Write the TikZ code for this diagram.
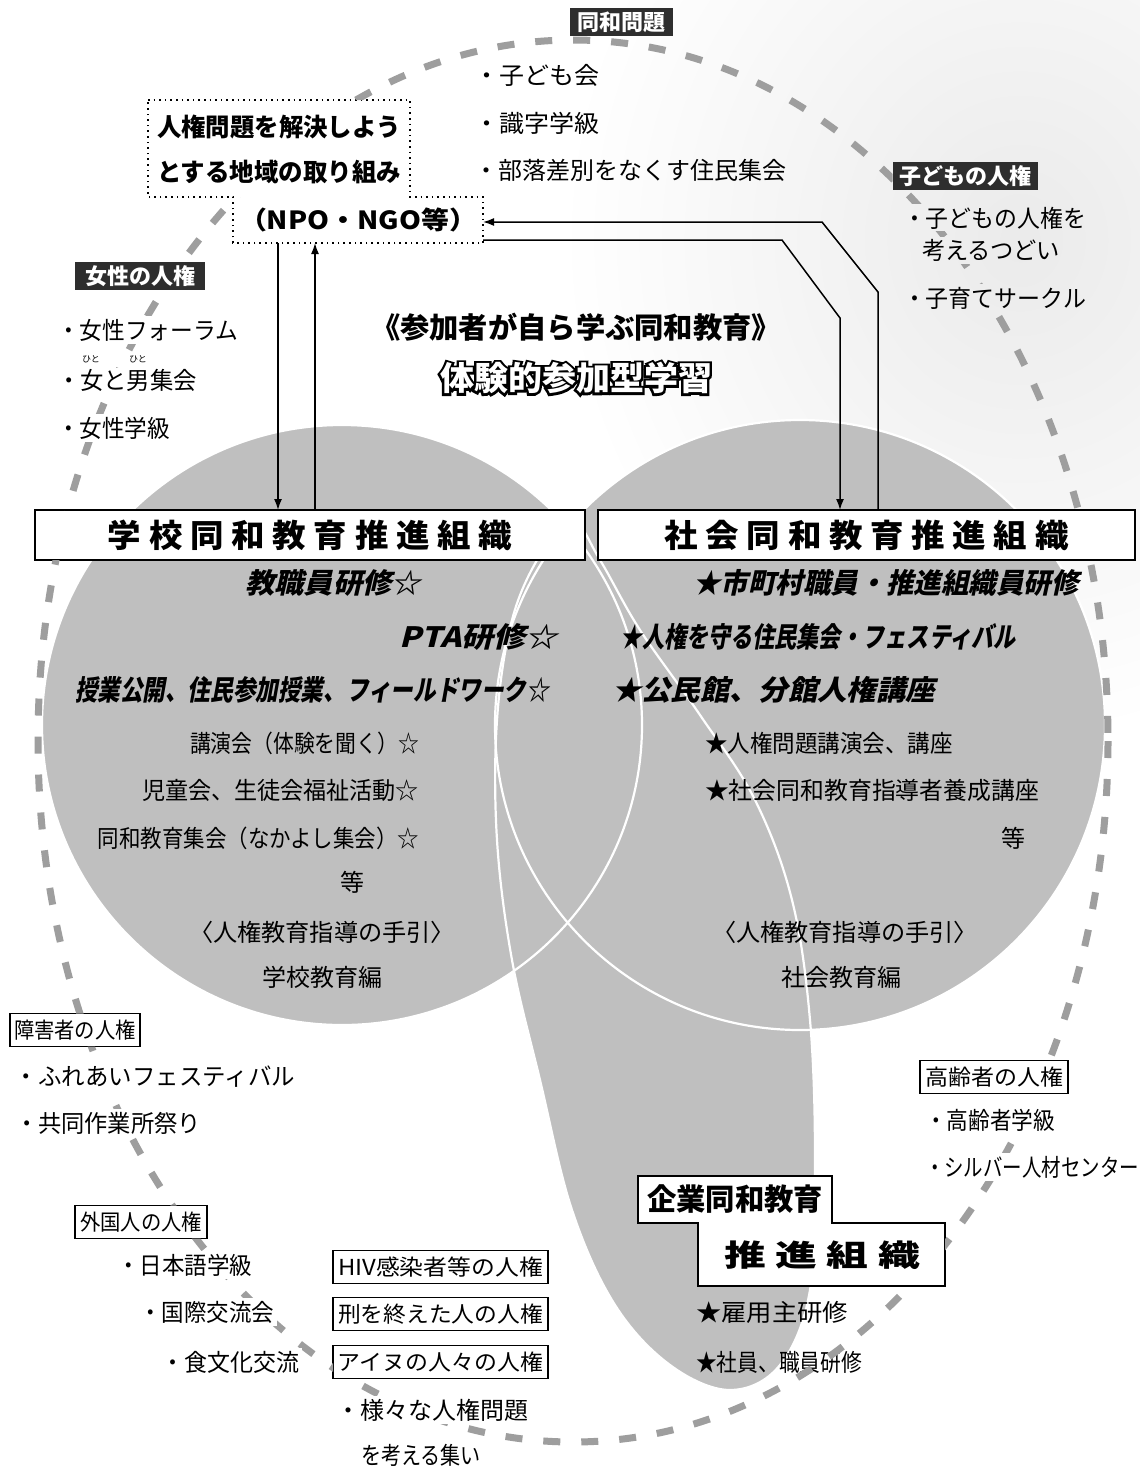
\documentclass[tikz,border=0pt]{standalone}
\usepackage{fontspec}
\usepackage{graphicx}
\setmainfont{Noto Sans CJK JP}
\newfontfamily\jpsl{Noto Sans CJK JP}[FakeSlant=0.22, BoldFeatures={FakeSlant=0.22}]
\newfontfamily\jpout{Noto Sans CJK JP}[FakeBold=14, BoldFeatures={FakeBold=14}]
\usetikzlibrary{arrows.meta,calc}
\newcommand\fw[2]{\resizebox{#1pt}{\height}{#2}}
\newcommand\fs[1]{\fontsize{#1}{#1}\selectfont}
\tikzset{
  every node/.style={inner sep=0pt, outer sep=0pt},
  mi/.style={font=\fs{24}},
  lbl/.style={fill=black!82, text=white, font=\fs{22}\bfseries, minimum height=28pt},
  wbox/.style={draw, line width=1.1pt, fill=white, font=\fs{22}, minimum height=33pt},
  org/.style={draw, line width=1.4pt, fill=white, minimum height=50pt, font=\fs{32}\bfseries},
  bi/.style={font=\jpsl\bfseries\fs{28}},
  arr/.style={line width=1.5pt, -{Latex[length=11pt,width=8pt]}},
  dashring/.style={draw=black!38, line width=7pt, dash pattern=on 17pt off 21pt},
  ring/.style={draw=white, line width=2.2pt},
  graybg/.style={fill=black!25},
  dotbox/.style={draw, line width=1.6pt, dash pattern=on 1.6pt off 4pt, fill=white},
}
\begin{document}
\begin{tikzpicture}[x=1pt,y=-1pt]
\useasboundingbox (0,0) rectangle (1140,1470);
\fill[white] (0,0) rectangle (1140,1470);
% light screen tone, upper right
\shade[inner color=black!8, outer color=white] (1020,240) ellipse [x radius=460, y radius=500];
% three grey shapes
\fill[graybg] (342,725) circle [radius=300];
\fill[graybg] (800,725) circle [radius=305];
\fill[graybg] plot[smooth cycle, tension=0.6] coordinates {(572,520) (600,560) (640,630) (700,715) (755,800) (792,900) (810,1020) (815,1160) (810,1290) (780,1365) (730,1390) (670,1365) (615,1305) (572,1210) (540,1080) (512,960) (497,840) (497,720) (512,620) (540,555)};
\draw[ring] (342,725) circle [radius=300];
\draw[ring] (800,725) circle [radius=305];
\draw[ring] plot[smooth cycle, tension=0.6] coordinates {(572,520) (600,560) (640,630) (700,715) (755,800) (792,900) (810,1020) (815,1160) (810,1290) (780,1365) (730,1390) (670,1365) (615,1305) (572,1210) (540,1080) (512,960) (497,840) (497,720) (512,620) (540,555)};

% top
\node[lbl, minimum width=103pt] (dowa) at (621,22) {同和問題};
\node[mi, anchor=west] (k1) at (474,75) {\fw{125}{・子ども会}};
\node[mi, anchor=west] (k2) at (474,123) {\fw{125}{・識字学級}};
\node[mi, anchor=west] (k3) at (474,170) {\fw{312}{・部落差別をなくす住民集会}};

% dotted box
\draw[dotbox] (148,100) -- (410,100) -- (410,197) -- (483,197) -- (483,243) -- (233,243) -- (233,197) -- (148,197) -- cycle;
\node[font=\fs{25}\bfseries] (npo1) at (279,127) {\fw{244}{人権問題を解決しよう}};
\node[font=\fs{25}\bfseries] (npo2) at (279,172) {\fw{244}{とする地域の取り組み}};
\node[font=\fs{25}\bfseries, minimum width=250pt, minimum height=46pt] (npo) at (358,220) {\fw{238}{（NPO・NGO等）}};

% women
\node[lbl, minimum width=130pt] (josei) at (140,276) {女性の人権};
\node[mi, anchor=west] (j1) at (57,330) {\fw{181}{・女性フォーラム}};
\node[mi, anchor=west] (j2) at (57,380) {\fw{140}{・女と男集会}};
\node[font=\fs{9}] (ruby1) at (91,359) {ひと};
\node[font=\fs{9}] (ruby2) at (138,359) {ひと};
\node[mi, anchor=west] (j3) at (57,428) {\fw{113}{・女性学級}};

% title
\node[font=\bfseries\fs{29}] (title1) at (576,327) {\fw{410}{《参加者が自ら学ぶ同和教育》}};
\node[font=\jpout\bfseries\fs{33}, text=black] (title2o) at (576,378) {\fw{272}{体験的参加型学習}};
\node[font=\bfseries\fs{33}, text=white] (title2) at (576,378) {\fw{272}{体験的参加型学習}};

% children
\node[lbl, minimum width=145pt] (kodomo) at (965,176) {子どもの人権};
\node[mi, anchor=west] (c1) at (903,218) {\fw{183}{・子どもの人権を}};
\node[mi, anchor=west] (c2) at (922,250) {\fw{138}{考えるつどい}};
\node[mi, anchor=west] (c3) at (903,298) {\fw{183}{・子育てサークル}};

% organisation boxes
\node[org, minimum width=550pt] (gakko) at (310,535) {\fw{404}{学 校 同 和 教 育 推 進 組 織}};
\node[org, minimum width=537pt] (shakai) at (866.5,535) {\fw{404}{社 会 同 和 教 育 推 進 組 織}};

% school side
\node[bi, anchor=east] (g1) at (421,583) {\fw{176}{教職員研修☆}};
\node[bi, anchor=east] (g2) at (558,637) {\fw{158}{PTA研修☆}};
\node[bi, anchor=east] (g3) at (549,690) {\fw{474}{授業公開、住民参加授業、フィールドワーク☆}};
\node[mi, anchor=east] (l4) at (419,743) {\fw{229}{講演会（体験を聞く）☆}};
\node[mi, anchor=east] (l5) at (419,790) {\fw{277}{児童会、生徒会福祉活動☆}};
\node[mi, anchor=east] (l6) at (419,838) {\fw{321}{同和教育集会（なかよし集会）☆}};
\node[mi] (l7) at (352,882) {等};
\node[mi] (l8) at (322,932) {\fw{266}{〈人権教育指導の手引〉}};
\node[mi] (l9) at (322,977) {学校教育編};

% society side
\node[bi, anchor=west] (s1) at (693,583) {\fw{386}{★市町村職員・推進組織員研修}};
\node[bi, anchor=west] (s2) at (620,637) {\fw{396}{★人権を守る住民集会・フェスティバル}};
\node[bi, anchor=west] (s3) at (612,690) {\fw{323}{★公民館、分館人権講座}};
\node[mi, anchor=west] (s4) at (705,743) {\fw{248}{★人権問題講演会、講座}};
\node[mi, anchor=west] (s5) at (705,790) {\fw{334}{★社会同和教育指導者養成講座}};
\node[mi] (s6) at (1013,838) {等};
\node[mi] (s7) at (845,932) {\fw{266}{〈人権教育指導の手引〉}};
\node[mi] (s8) at (841,977) {社会教育編};

% bottom left
\node[wbox, minimum width=130pt] (shogai) at (75,1030) {\fw{122}{障害者の人権}};
\node[mi, anchor=west] (h1) at (15,1077) {\fw{280}{・ふれあいフェスティバル}};
\node[mi, anchor=west] (h2) at (15,1123) {\fw{186}{・共同作業所祭り}};
\node[wbox, minimum width=132pt] (gaikoku) at (141,1222) {\fw{122}{外国人の人権}};
\node[mi, anchor=west] (f1) at (117,1265) {\fw{135}{・日本語学級}};
\node[mi, anchor=west] (f2) at (139,1312) {\fw{135}{・国際交流会}};
\node[mi, anchor=west] (f3) at (161,1362) {\fw{138}{・食文化交流}};
\node[wbox, minimum width=215pt] (hiv) at (440.5,1267) {\fw{205}{HIV感染者等の人権}};
\node[wbox, minimum width=215pt] (kei) at (440.5,1314) {\fw{205}{刑を終えた人の人権}};
\node[wbox, minimum width=215pt] (ainu) at (440.5,1362) {\fw{205}{アイヌの人々の人権}};
\node[mi, anchor=west] (m1) at (336,1410) {\fw{192}{・様々な人権問題}};
\node[mi, anchor=west] (m2) at (361,1455) {\fw{120}{を考える集い}};

% bottom right
\node[wbox, minimum width=148pt] (korei) at (994,1077) {\fw{138}{高齢者の人権}};
\node[mi, anchor=west] (o1) at (925,1120) {\fw{130}{・高齢者学級}};
\node[mi, anchor=west] (o2) at (925,1167) {\fw{214}{・シルバー人材センター}};
\draw[line width=1.4pt, fill=white] (638,1176) -- (832,1176) -- (832,1223) -- (945,1223) -- (945,1286) -- (698,1286) -- (698,1223) -- (638,1223) -- cycle;
\node[font=\bfseries\fs{30}] (kigyo1) at (735,1199) {\fw{176}{企業同和教育}};
\node[font=\bfseries\fs{30}] (kigyo2) at (822,1255) {\fw{196}{推 進 組 織}};
\node[mi, anchor=west] (e1) at (696,1312) {\fw{152}{★雇用主研修}};
\node[mi, anchor=west] (e2) at (696,1362) {\fw{166}{★社員、職員研修}};

% dashed ring, hidden behind texts and boxes
\begin{scope}[even odd rule]
\clip (0,0) rectangle (1140,1470)
  (dowa.north west) rectangle (dowa.south east)
  (148,100) rectangle (410,197) (233,197) rectangle (483,243)
  (josei.north west) rectangle (josei.south east)
  ([shift={(-3,-3)}]j1.north west) rectangle ([shift={(3,3)}]j1.south east)
  ([shift={(-3,-1)}]j2.north west) rectangle ([shift={(3,3)}]j2.south east)
  ([shift={(-3,-3)}]j3.north west) rectangle ([shift={(3,3)}]j3.south east)
  (kodomo.north west) rectangle (kodomo.south east)
  ([shift={(-3,-3)}]c1.north west) rectangle ([shift={(3,2)}]c1.south east)
  ([shift={(-3,-2)}]c2.north west) rectangle ([shift={(3,3)}]c2.south east)
  ([shift={(-3,-3)}]c3.north west) rectangle ([shift={(3,3)}]c3.south east)
  (gakko.north west) rectangle (gakko.south east)
  (shakai.north west) rectangle (shakai.south east)
  (shogai.north west) rectangle (shogai.south east)
  ([shift={(-3,-3)}]h1.north west) rectangle ([shift={(3,3)}]h1.south east)
  ([shift={(-3,-3)}]h2.north west) rectangle ([shift={(3,3)}]h2.south east)
  (gaikoku.north west) rectangle (gaikoku.south east)
  ([shift={(-3,-3)}]f1.north west) rectangle ([shift={(3,3)}]f1.south east)
  ([shift={(-3,-3)}]f2.north west) rectangle ([shift={(3,3)}]f2.south east)
  ([shift={(-3,-3)}]f3.north west) rectangle ([shift={(3,3)}]f3.south east)
  (hiv.north west) rectangle (hiv.south east)
  (kei.north west) rectangle (kei.south east)
  (ainu.north west) rectangle (ainu.south east)
  ([shift={(-3,-3)}]m1.north west) rectangle ([shift={(3,3)}]m1.south east)
  ([shift={(-3,-3)}]m2.north west) rectangle ([shift={(3,3)}]m2.south east)
  (korei.north west) rectangle (korei.south east)
  ([shift={(-3,-3)}]o1.north west) rectangle ([shift={(3,3)}]o1.south east)
  ([shift={(-3,-3)}]o2.north west) rectangle ([shift={(3,3)}]o2.south east)
  (638,1176) rectangle (832,1223) (698,1223) rectangle (945,1286);
\draw[dashring] (573,741) ellipse [x radius=535, y radius=701];
\end{scope}

% connectors
\coordinate (ax1) at (278,0);
\coordinate (ax2) at (315,0);
\draw[arr] (npo.south -| ax1) -- (gakko.north -| ax1);
\draw[arr] (gakko.north -| ax2) -- (npo.south -| ax2);
\coordinate (rb1) at (822,222);
\coordinate (rc1) at (878,292);
\draw[arr] (shakai.north -| rc1) -- (rc1) -- (rb1) -- (npo.east |- rb1);
\coordinate (rb2) at (782,240);
\coordinate (rc2) at (840,318);
\draw[arr] (npo.east |- rb2) -- (rb2) -- (rc2) -- (shakai.north -| rc2);
\end{tikzpicture}
\end{document}
